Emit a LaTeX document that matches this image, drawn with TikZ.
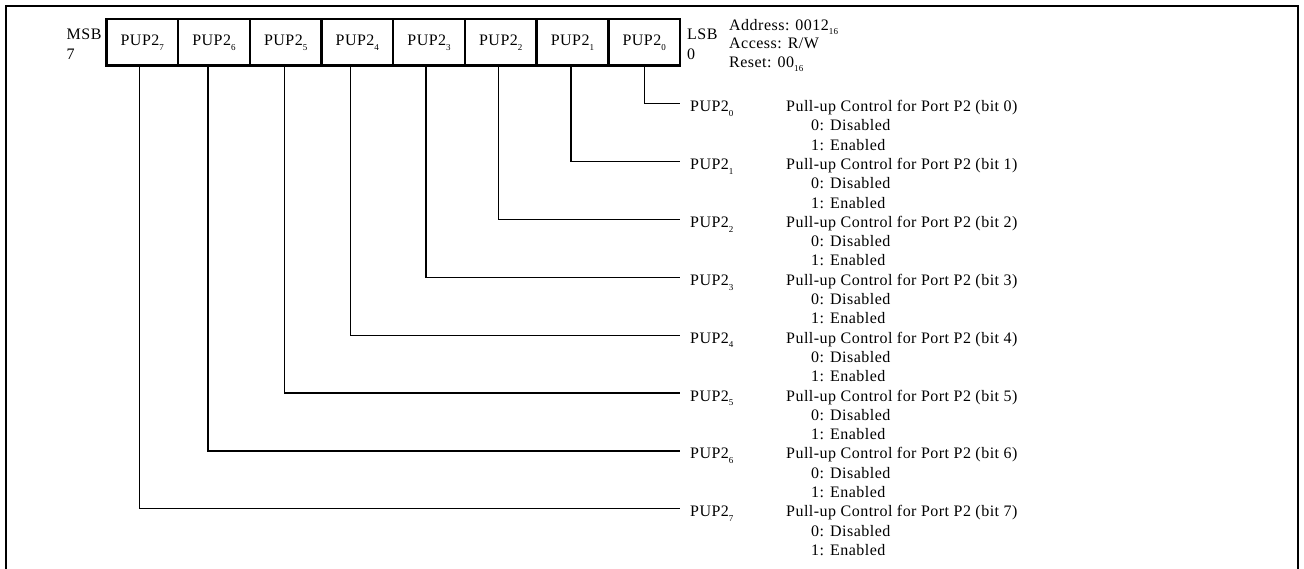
\documentclass[tikz,border=0pt]{standalone}
\usepackage{fontspec}
\setmainfont{Liberation Serif}[LetterSpace=3]
\newcommand{\bitsub}[1]{\raisebox{-0.3em}{\fontsize{9}{9}\selectfont #1}}
\begin{document}
\begin{tikzpicture}[x=1pt,y=-1pt,
  font=\fontsize{16}{19}\selectfont,
  regbox/.style={draw, line width=2.5pt, minimum width=71.7pt, minimum height=46.4pt, inner sep=0pt},
  conn/.style={line width=1.2pt},
  txt/.style={anchor=base west, inner sep=0pt}]
\useasboundingbox (0,0) rectangle (1304,568);
\clip (0,0) rectangle (1304,568);
% outer frame, open at the bottom
\draw[line width=2.6pt] (6,590) -- (6,6) -- (1298,6) -- (1298,590);
% register cells, MSB on the left
\foreach \b [count=\i from 0] in {7,6,5,4,3,2,1,0}
  \node[regbox] (b\b) at ({142.25+71.7*\i},42.4) {PUP2\bitsub{\b}};
\node[txt] (msb) at (66.5,39) {MSB};
\node[txt] (msbn) at (66.5,59) {7};
\node[txt] (lsb) at (687,39) {LSB};
\node[txt] (lsbn) at (687,59) {0};
\node[txt] (addr) at (729,30) {Address: 0012\bitsub{16}};
\node[txt] (acc) at (729,48.5) {Access: R/W};
\node[txt] (rst) at (729,67) {Reset: 00\bitsub{16}};
% bit descriptions with their leader lines
\foreach \b/\dx in {7/-3,6/-6,5/-1,4/-7,3/-3,2/-2,1/-1.5,0/0} {
  \pgfmathsetmacro\ly{103.5+57.9*\b}
  \coordinate (e\b) at (680,\ly);
  \draw[conn] ([xshift=\dx pt]b\b.south) |- (e\b);
  \node[txt] (l\b) at (690,\ly+8) {PUP2\bitsub{\b}};
  \node[txt] (d\b) at (786,\ly+8) {Pull-up Control for Port P2 (bit \b)};
  \node[txt] (z\b) at (811,\ly+27.3) {0: Disabled};
  \node[txt] (o\b) at (811,\ly+46.6) {1: Enabled};
}
\end{tikzpicture}
\end{document}
